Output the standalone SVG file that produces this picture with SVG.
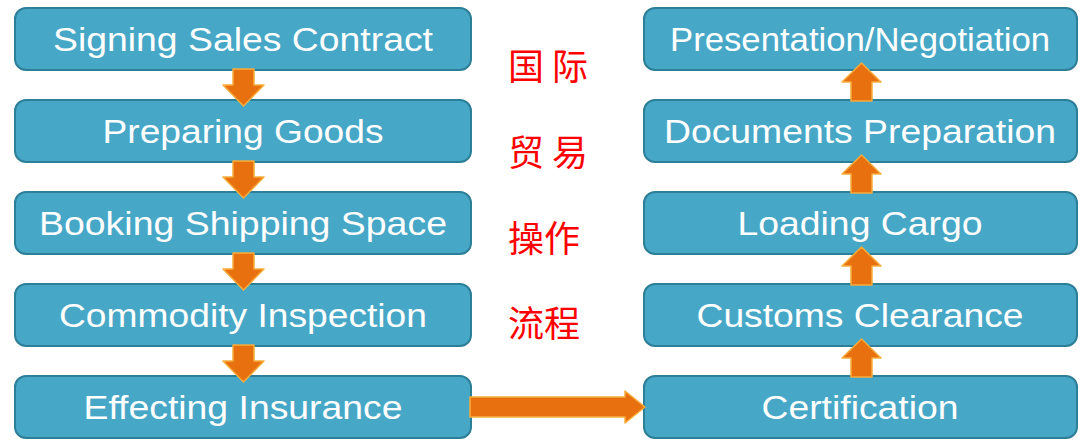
<svg xmlns="http://www.w3.org/2000/svg" width="1087" height="445" viewBox="0 0 1087 445">
<defs>
<style>
.box{fill:#47a7c7;stroke:#2d7f98;stroke-width:2}
.lbl{fill:#ffffff;font-family:"Liberation Sans",Arial,sans-serif;font-size:33px;text-anchor:middle}
.arr{fill:#e9700f;stroke:#f6ad3c;stroke-width:1.5;stroke-linejoin:round}
.cn{fill:#ff0000;font-family:"Noto Sans CJK SC",sans-serif;font-size:36px}
</style>
</defs>
<rect width="1087" height="445" fill="#ffffff"/>
<g id="n1"><rect class="box" x="15" y="8" width="456" height="62" rx="11"/><text class="lbl" x="243" y="51" textLength="380" lengthAdjust="spacingAndGlyphs">Signing Sales Contract</text></g>
<g id="n2"><rect class="box" x="15" y="100" width="456" height="62" rx="11"/><text class="lbl" x="243" y="143" textLength="281" lengthAdjust="spacingAndGlyphs">Preparing Goods</text></g>
<g id="n3"><rect class="box" x="15" y="192" width="456" height="62" rx="11"/><text class="lbl" x="243" y="235" textLength="408" lengthAdjust="spacingAndGlyphs">Booking Shipping Space</text></g>
<g id="n4"><rect class="box" x="15" y="284" width="456" height="62" rx="11"/><text class="lbl" x="243" y="327" textLength="368" lengthAdjust="spacingAndGlyphs">Commodity Inspection</text></g>
<g id="n5"><rect class="box" x="15" y="376" width="456" height="62" rx="11"/><text class="lbl" x="243" y="419" textLength="319" lengthAdjust="spacingAndGlyphs">Effecting Insurance</text></g>
<g id="n6"><rect class="box" x="644" y="376" width="433" height="62" rx="11"/><text class="lbl" x="860" y="419" textLength="197" lengthAdjust="spacingAndGlyphs">Certification</text></g>
<g id="n7"><rect class="box" x="644" y="284" width="433" height="62" rx="11"/><text class="lbl" x="860" y="327" textLength="327" lengthAdjust="spacingAndGlyphs">Customs Clearance</text></g>
<g id="n8"><rect class="box" x="644" y="192" width="433" height="62" rx="11"/><text class="lbl" x="860" y="235" textLength="245" lengthAdjust="spacingAndGlyphs">Loading Cargo</text></g>
<g id="n9"><rect class="box" x="644" y="100" width="433" height="62" rx="11"/><text class="lbl" x="860" y="143" textLength="392" lengthAdjust="spacingAndGlyphs">Documents Preparation</text></g>
<g id="n10"><rect class="box" x="644" y="8" width="433" height="62" rx="11"/><text class="lbl" x="860" y="51" textLength="380" lengthAdjust="spacingAndGlyphs">Presentation/Negotiation</text></g>
<g id="title">
<text class="cn" x="508" y="80">国 际</text>
<text class="cn" x="508" y="166">贸 易</text>
<text class="cn" x="508" y="252">操作</text>
<text class="cn" x="508" y="337">流程</text>
</g>
<g id="connectors">
<polygon class="arr" points="233,69 254,69 254,85 264,85 243.5,106 223,85 233,85"/>
<polygon class="arr" points="233,161 254,161 254,177 264,177 243.5,198 223,177 233,177"/>
<polygon class="arr" points="233,253 254,253 254,269 264,269 243.5,290 223,269 233,269"/>
<polygon class="arr" points="233,345 254,345 254,361 264,361 243.5,382 223,361 233,361"/>
<polygon class="arr" points="470,397 625,397 625,391 645,407 625,423 625,417 470,417"/>
<polygon class="arr" points="851,377 872,377 872,358 881,358 861.5,339 842,358 851,358"/>
<polygon class="arr" points="851,285 872,285 872,266 881,266 861.5,247 842,266 851,266"/>
<polygon class="arr" points="851,193 872,193 872,174 881,174 861.5,155 842,174 851,174"/>
<polygon class="arr" points="851,101 872,101 872,82 881,82 861.5,63 842,82 851,82"/>
</g>
</svg>
